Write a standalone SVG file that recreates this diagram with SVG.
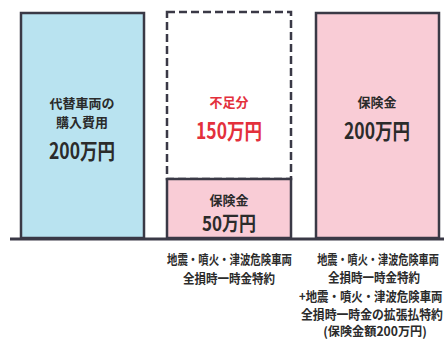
<svg xmlns="http://www.w3.org/2000/svg" width="444" height="340" viewBox="0 0 444 340">
<style>
.t{font-family:"Noto Sans CJK JP","Noto Sans",sans-serif;fill:#2b2b2b;text-anchor:middle;dominant-baseline:central;font-weight:700}
.s{font-size:13px}
.b{font-size:22px}
.m{font-size:20px}
.r{fill:#e3303c}
.box{stroke:#3a3946;stroke-width:2.5}
.n{font-family:"Noto Sans CJK JP","Noto Sans",sans-serif;fill:#2b2b2b;font-size:13px;dominant-baseline:central;font-weight:700}
</style>
<rect width="444" height="340" fill="#ffffff"/>
<g id="cost">
<rect class="box" x="21" y="13" width="123" height="225" fill="#b9e3f0"/>
<text class="t s" x="82" y="102.5">代替車両の</text>
<text class="t s" x="82" y="121.5">購入費用</text>
<text class="t b" x="82" y="149" textLength="66" lengthAdjust="spacingAndGlyphs">200万円</text>
</g>
<g id="shortfall">
<rect x="167" y="12" width="124" height="167" fill="none" stroke="#3a3946" stroke-width="2.5" stroke-dasharray="8 4"/>
<text class="t s r" x="229" y="101">不足分</text>
<text class="t b r" x="229" y="129" textLength="66" lengthAdjust="spacingAndGlyphs">150万円</text>
</g>
<g id="insurance50">
<rect class="box" x="167" y="179" width="124" height="59" fill="#f9ccd6"/>
<text class="t s" x="229" y="199">保険金</text>
<text class="t m" x="229" y="222" textLength="54" lengthAdjust="spacingAndGlyphs">50万円</text>
</g>
<g id="insurance200">
<rect class="box" x="316" y="13" width="123" height="225" fill="#f9ccd6"/>
<text class="t s" x="377" y="101">保険金</text>
<text class="t b" x="377" y="129" textLength="66" lengthAdjust="spacingAndGlyphs">200万円</text>
</g>
<g id="connectors">
<line x1="10" y1="239" x2="444" y2="239" stroke="#3a3946" stroke-width="3"/>
</g>
<g id="label-mid">
<text class="t s" x="229.5" y="258" textLength="125" lengthAdjust="spacingAndGlyphs">地震・噴火・津波危険車両</text>
<text class="t s" x="229" y="277" textLength="92" lengthAdjust="spacingAndGlyphs">全損時一時金特約</text>
</g>
<g id="label-right">
<text class="t s" transform="translate(378,258) scale(0.78,1)" x="0" y="0" textLength="156" lengthAdjust="spacingAndGlyphs">地震・噴火・津波危険車両</text>
<text class="t s" transform="translate(374,277) scale(0.885,1)" x="0" y="0" textLength="104" lengthAdjust="spacingAndGlyphs">全損時一時金特約</text>
<text class="n" transform="translate(299,296) scale(0.88,1)" x="0" y="0" textLength="163" lengthAdjust="spacingAndGlyphs">+地震・噴火・津波危険車両</text>
<text class="n" transform="translate(301,314) scale(0.91,1)" x="0" y="0" textLength="156" lengthAdjust="spacingAndGlyphs">全損時一時金の拡張払特約</text>
<text class="t" font-size="12.5" transform="translate(375,331) scale(0.96,1)" x="0" y="0" textLength="108" lengthAdjust="spacingAndGlyphs">(保険金額200万円)</text>
</g>
</svg>
